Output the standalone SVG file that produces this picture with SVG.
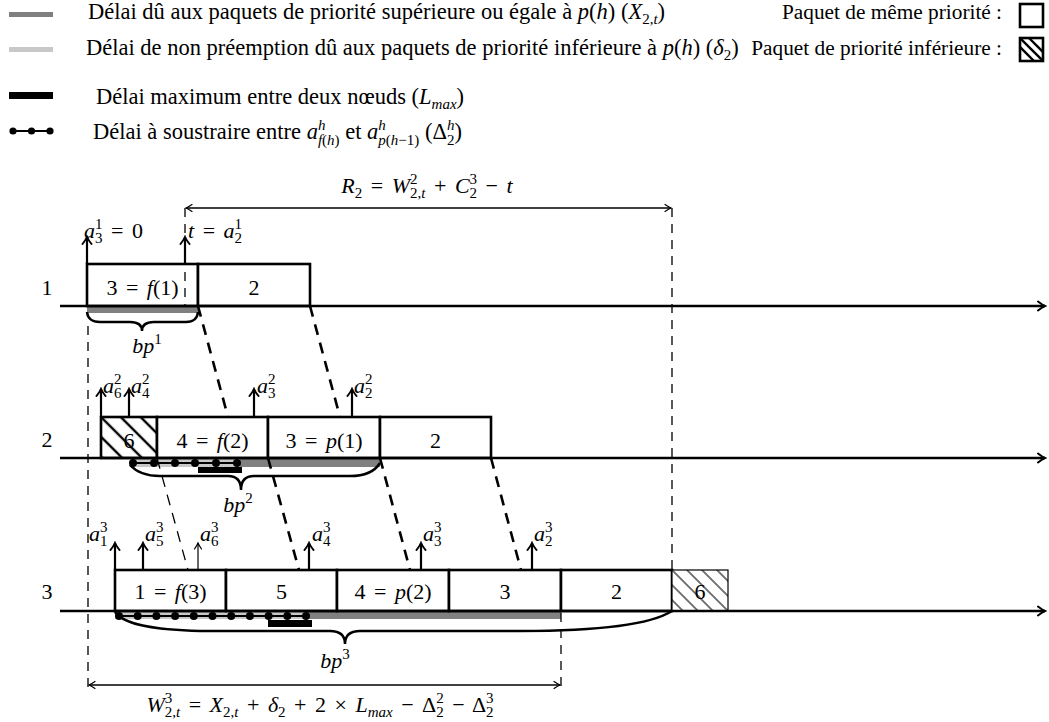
<svg xmlns="http://www.w3.org/2000/svg" width="1049" height="722" viewBox="0 0 1049 722">
<defs>
<style>
.t{font-family:'Liberation Serif','DejaVu Serif',serif;font-size:22px;fill:#000}
.L{font-size:22.5px}
.R{font-size:21.3px}
.m{word-spacing:3px}
.i{font-style:italic}
.s{font-size:15px}
.box{fill:#fff;stroke:#000;stroke-width:2.6}
.hbox2{fill:url(#h2);stroke:#000;stroke-width:2.6}
.hbox3{fill:url(#h3);stroke:#000;stroke-width:1.2}
.axis{stroke:#000;stroke-width:2.5;fill:none}
.arr{stroke:#000;stroke-width:2.2;fill:none}
.arrt{stroke:#000;stroke-width:1.2;fill:none}
.vd{stroke:#000;stroke-width:1.3;stroke-dasharray:9 7;fill:none}
.sd{stroke:#000;stroke-width:2.6;stroke-dasharray:11 8;fill:none}
.sdt{stroke:#000;stroke-width:1.3;stroke-dasharray:11 8;fill:none}
.dim{stroke:#000;stroke-width:1.3;fill:none}
.brace{stroke:#000;stroke-width:2.5;fill:none}
.dg{fill:#808080}
.lg{fill:#c8c8c8}
.blk{fill:#000}
.dotl{stroke:#000;stroke-width:2}
</style>
<marker id="ah" viewBox="-9 -6 11 12" refX="0" refY="0" markerWidth="11" markerHeight="12" markerUnits="userSpaceOnUse" orient="auto">
<path d="M-7,-4.5 Q-2.5,-1 0,0 Q-2.5,1 -7,4.5" fill="none" stroke="#000" stroke-width="2" stroke-linecap="round"/>
</marker>
<marker id="aht" viewBox="-9 -6 11 12" refX="0" refY="0" markerWidth="11" markerHeight="12" markerUnits="userSpaceOnUse" orient="auto-start-reverse">
<path d="M-6,-3.5 Q-2,-0.8 0,0 Q-2,0.8 -6,3.5" fill="none" stroke="#000" stroke-width="1.2" stroke-linecap="round"/>
</marker>
<pattern id="h2" patternUnits="userSpaceOnUse" width="14" height="14" patternTransform="translate(101,417) rotate(-45)">
<rect width="14" height="14" fill="#fff"/>
<line x1="0" y1="0" x2="0" y2="14" stroke="#000" stroke-width="2.4"/>
<line x1="14" y1="0" x2="14" y2="14" stroke="#000" stroke-width="2.4"/>
</pattern>
<pattern id="h3" patternUnits="userSpaceOnUse" width="10.6" height="10.6" patternTransform="translate(672,570) rotate(-45)">
<rect width="10.6" height="10.6" fill="#fff"/>
<line x1="0" y1="0" x2="0" y2="10.6" stroke="#000" stroke-width="1.1"/>
<line x1="10.6" y1="0" x2="10.6" y2="10.6" stroke="#000" stroke-width="1.1"/>
</pattern>
<clipPath id="lgclip"><rect x="1020" y="38" width="23" height="23"/></clipPath>
</defs>

<g id="legend">
<rect class="dg" x="9" y="12" width="44" height="5"/>
<text class="t L" x="88" y="19">Délai dû aux paquets de priorité supérieure ou égale à <tspan class="i">p</tspan>(<tspan class="i">h</tspan>) (<tspan class="i">X</tspan><tspan class="s" dy="5">2,<tspan class="i">t</tspan></tspan><tspan dy="-5">)</tspan></text>
<rect class="lg" x="9" y="47" width="44" height="5"/>
<text class="t L" x="86" y="55">Délai de non préemption dû aux paquets de priorité inférieure à <tspan class="i">p</tspan>(<tspan class="i">h</tspan>) (<tspan class="i">δ</tspan><tspan class="s" dy="5">2</tspan><tspan dy="-5">)</tspan></text>
<rect class="blk" x="9" y="92" width="44" height="7"/>
<text class="t L" x="96" y="104">Délai maximum entre deux nœuds (<tspan class="i">L</tspan><tspan class="s i" dy="5">max</tspan><tspan dy="-5">)</tspan></text>
<line class="dotl" x1="12" y1="131" x2="50" y2="131"/>
<circle cx="13" cy="131" r="3.6"/><circle cx="31.5" cy="131" r="3.6"/><circle cx="50" cy="131" r="3.6"/>
<text class="t L" x="93" y="139">Délai à soustraire entre <tspan class="i">a</tspan><tspan class="s i" dy="-9">h</tspan><tspan class="s" dx="-7.5" dy="15"><tspan class="i">f</tspan>(<tspan class="i">h</tspan>)</tspan><tspan dy="-6"> et </tspan><tspan class="i">a</tspan><tspan class="s i" dy="-9">h</tspan><tspan class="s" dx="-7.5" dy="15"><tspan class="i">p</tspan>(<tspan class="i">h</tspan>−1)</tspan><tspan dy="-6"> (Δ</tspan><tspan class="s i" dy="-9">h</tspan><tspan class="s" dx="-7.5" dy="15">2</tspan><tspan dy="-6">)</tspan></text>
<text class="t R" x="1002" y="19" text-anchor="end">Paquet de même priorité :</text>
<rect class="box" x="1020" y="4" width="23" height="23"/>
<text class="t R" x="1002" y="55" text-anchor="end">Paquet de priorité inférieure :</text>
<g clip-path="url(#lgclip)" stroke="#000" stroke-width="2.4">
<line x1="1020" y1="38" x2="1043" y2="61"/>
<line x1="1029" y1="38" x2="1052" y2="61"/>
<line x1="1011" y1="38" x2="1034" y2="61"/>
</g>
<rect x="1020" y="38" width="23" height="23" fill="none" stroke="#000" stroke-width="2.6"/>
</g>

<g id="row-labels">
<text class="t" x="47" y="295" text-anchor="middle">1</text>
<text class="t" x="47" y="447" text-anchor="middle">2</text>
<text class="t" x="47" y="599" text-anchor="middle">3</text>
</g>

<g id="delays">
<rect class="dg" x="87" y="307" width="111" height="6"/>
<rect class="lg" x="130" y="459" width="110" height="8"/>
<rect class="dg" x="240" y="459" width="140" height="8"/>
<rect class="lg" x="115" y="612" width="191" height="7"/>
<rect class="dg" x="306" y="612" width="255" height="7"/>
</g>

<g id="node1-p3"><rect class="box" x="87" y="264" width="111" height="42"/><text class="t m" x="142.5" y="295" text-anchor="middle">3 = <tspan class="i">f</tspan>(1)</text></g>
<g id="node1-p2"><rect class="box" x="198" y="264" width="112" height="42"/><text class="t" x="254" y="295" text-anchor="middle">2</text></g>

<g id="node2-p6"><rect class="hbox2" x="101" y="417" width="56" height="41"/><text class="t" x="129" y="448" text-anchor="middle">6</text></g>
<g id="node2-p4"><rect class="box" x="157" y="417" width="111" height="41"/><text class="t m" x="212.5" y="448" text-anchor="middle">4 = <tspan class="i">f</tspan>(2)</text></g>
<g id="node2-p3"><rect class="box" x="268" y="417" width="112" height="41"/><text class="t m" x="324" y="448" text-anchor="middle">3 = <tspan class="i">p</tspan>(1)</text></g>
<g id="node2-p2"><rect class="box" x="380" y="417" width="111" height="41"/><text class="t" x="435.5" y="448" text-anchor="middle">2</text></g>

<g id="node3-p1"><rect class="box" x="115" y="570" width="111" height="41"/><text class="t m" x="170.5" y="599" text-anchor="middle">1 = <tspan class="i">f</tspan>(3)</text></g>
<g id="node3-p5"><rect class="box" x="226" y="570" width="111" height="41"/><text class="t" x="281.5" y="599" text-anchor="middle">5</text></g>
<g id="node3-p4"><rect class="box" x="337" y="570" width="112" height="41"/><text class="t m" x="393" y="599" text-anchor="middle">4 = <tspan class="i">p</tspan>(2)</text></g>
<g id="node3-p3"><rect class="box" x="449" y="570" width="112" height="41"/><text class="t" x="505" y="599" text-anchor="middle">3</text></g>
<g id="node3-p2"><rect class="box" x="561" y="570" width="111" height="41"/><text class="t" x="616.5" y="599" text-anchor="middle">2</text></g>
<g id="node3-p6"><rect class="hbox3" x="672" y="570" width="56" height="41"/><text class="t" x="700" y="599" text-anchor="middle">6</text></g>

<g id="connectors">
<line class="axis" x1="60" y1="306" x2="1045" y2="306" marker-end="url(#ah)"/>
<line class="axis" x1="60" y1="458" x2="1045" y2="458" marker-end="url(#ah)"/>
<line class="axis" x1="60" y1="611" x2="1045" y2="611" marker-end="url(#ah)"/>
<line class="sd" x1="198" y1="306" x2="228" y2="417"/>
<line class="sd" x1="310" y1="306" x2="340" y2="417"/>
<line class="sdt" x1="157" y1="458" x2="188" y2="570"/>
<line class="sd" x1="268" y1="458" x2="299" y2="570"/>
<line class="sd" x1="380" y1="458" x2="410" y2="570"/>
<line class="sd" x1="491" y1="458" x2="521" y2="570"/>
<line class="vd" x1="185" y1="208" x2="185" y2="306"/>
<line class="vd" x1="672" y1="208" x2="672" y2="570"/>
<line class="vd" x1="88" y1="326" x2="88" y2="688"/>
<line class="vd" x1="561" y1="613" x2="561" y2="688"/>
<line class="dim" x1="186" y1="208" x2="671" y2="208" marker-start="url(#aht)" marker-end="url(#aht)"/>
<line class="dim" x1="89" y1="685" x2="560" y2="685" marker-start="url(#aht)" marker-end="url(#aht)"/>
<g id="arrivals">
<line class="arr" x1="87" y1="264" x2="87" y2="237" marker-end="url(#ah)"/>
<line class="arr" x1="185" y1="264" x2="185" y2="237" marker-end="url(#ah)"/>
<line class="arr" x1="101" y1="417" x2="101" y2="389" marker-end="url(#ah)"/>
<line class="arr" x1="129" y1="417" x2="129" y2="389" marker-end="url(#ah)"/>
<line class="arr" x1="254" y1="417" x2="254" y2="389" marker-end="url(#ah)"/>
<line class="arr" x1="352" y1="417" x2="352" y2="389" marker-end="url(#ah)"/>
<line class="arr" x1="115" y1="570" x2="115" y2="543" marker-end="url(#ah)"/>
<line class="arr" x1="143" y1="570" x2="143" y2="543" marker-end="url(#ah)"/>
<line class="arrt" x1="198" y1="570" x2="198" y2="543" marker-end="url(#aht)"/>
<line class="arr" x1="309" y1="570" x2="309" y2="543" marker-end="url(#ah)"/>
<line class="arr" x1="421" y1="570" x2="421" y2="543" marker-end="url(#ah)"/>
<line class="arr" x1="532" y1="570" x2="532" y2="543" marker-end="url(#ah)"/>
</g>
</g>

<g id="delay-marks">
<line class="dotl" x1="132" y1="463" x2="237" y2="463"/>
<circle cx="133" cy="463" r="4"/><circle cx="154" cy="463" r="4"/><circle cx="175" cy="463" r="4"/><circle cx="195" cy="463" r="4"/><circle cx="216" cy="463" r="4"/><circle cx="237" cy="463" r="4"/>
<rect class="blk" x="198" y="467" width="44" height="6"/>
<line class="dotl" x1="119" y1="616" x2="306" y2="616"/>
<circle cx="119" cy="616" r="4"/><circle cx="137.7" cy="616" r="4"/><circle cx="156.4" cy="616" r="4"/><circle cx="175.1" cy="616" r="4"/><circle cx="193.8" cy="616" r="4"/><circle cx="212.5" cy="616" r="4"/><circle cx="231.2" cy="616" r="4"/><circle cx="249.9" cy="616" r="4"/><circle cx="268.6" cy="616" r="4"/><circle cx="287.3" cy="616" r="4"/><circle cx="306" cy="616" r="4"/>
<rect class="blk" x="268" y="620" width="44" height="7"/>
<path class="brace" d="M87,312 Q88,322 100,322 L130,322 Q142,322 142,331 Q142,322 154,322 L186,322 Q197,322 198,312"/>
<path class="brace" d="M130,465 Q140,476 160,476 L228,476 Q241,476 241,490 Q241,476 254,476 L350,476 Q372,476 380,463"/>
<path class="brace" d="M115,612 C125,626 160,630 200,631 L330,631 Q345,631 345,644 Q345,631 360,631 L520,631 C600,631 650,625 672,611"/>
</g>

<g id="labels">
<text class="t m" x="427" y="193" text-anchor="middle"><tspan class="i">R</tspan><tspan class="s" dy="5">2</tspan><tspan dy="-5"> = </tspan><tspan class="i">W</tspan><tspan class="s" dy="-9">2</tspan><tspan class="s" dx="-7.5" dy="14">2,<tspan class="i">t</tspan></tspan><tspan dy="-5"> + </tspan><tspan class="i">C</tspan><tspan class="s" dy="-9">3</tspan><tspan class="s" dx="-7.5" dy="14">2</tspan><tspan dy="-5"> − </tspan><tspan class="i">t</tspan></text>
<text class="t m" x="84" y="238"><tspan class="i">a</tspan><tspan class="s" dy="-9">1</tspan><tspan class="s" dx="-7.5" dy="14">3</tspan><tspan dy="-5"> = 0</tspan></text>
<text class="t m" x="188" y="238"><tspan class="i">t</tspan> = <tspan class="i">a</tspan><tspan class="s" dy="-9">1</tspan><tspan class="s" dx="-7.5" dy="14">2</tspan></text>
<text class="t" x="103" y="393"><tspan class="i">a</tspan><tspan class="s" dy="-9">2</tspan><tspan class="s" dx="-7.5" dy="14">6</tspan></text>
<text class="t" x="131" y="393"><tspan class="i">a</tspan><tspan class="s" dy="-9">2</tspan><tspan class="s" dx="-7.5" dy="14">4</tspan></text>
<text class="t" x="257" y="393"><tspan class="i">a</tspan><tspan class="s" dy="-9">2</tspan><tspan class="s" dx="-7.5" dy="14">3</tspan></text>
<text class="t" x="354" y="393"><tspan class="i">a</tspan><tspan class="s" dy="-9">2</tspan><tspan class="s" dx="-7.5" dy="14">2</tspan></text>
<text class="t" x="89" y="541"><tspan class="i">a</tspan><tspan class="s" dy="-9">3</tspan><tspan class="s" dx="-7.5" dy="14">1</tspan></text>
<text class="t" x="145" y="541"><tspan class="i">a</tspan><tspan class="s" dy="-9">3</tspan><tspan class="s" dx="-7.5" dy="14">5</tspan></text>
<text class="t" x="200" y="541"><tspan class="i">a</tspan><tspan class="s" dy="-9">3</tspan><tspan class="s" dx="-7.5" dy="14">6</tspan></text>
<text class="t" x="312" y="541"><tspan class="i">a</tspan><tspan class="s" dy="-9">3</tspan><tspan class="s" dx="-7.5" dy="14">4</tspan></text>
<text class="t" x="423" y="541"><tspan class="i">a</tspan><tspan class="s" dy="-9">3</tspan><tspan class="s" dx="-7.5" dy="14">3</tspan></text>
<text class="t" x="534" y="541"><tspan class="i">a</tspan><tspan class="s" dy="-9">3</tspan><tspan class="s" dx="-7.5" dy="14">2</tspan></text>
<text class="t" x="147" y="353" text-anchor="middle"><tspan class="i">bp</tspan><tspan class="s" dy="-9">1</tspan></text>
<text class="t" x="238" y="512" text-anchor="middle"><tspan class="i">bp</tspan><tspan class="s" dy="-9">2</tspan></text>
<text class="t" x="335" y="668" text-anchor="middle"><tspan class="i">bp</tspan><tspan class="s" dy="-9">3</tspan></text>
<text class="t m" x="320" y="712" text-anchor="middle"><tspan class="i">W</tspan><tspan class="s" dy="-9">3</tspan><tspan class="s" dx="-7.5" dy="14">2,<tspan class="i">t</tspan></tspan><tspan dy="-5"> = </tspan><tspan class="i">X</tspan><tspan class="s" dy="5">2,<tspan class="i">t</tspan></tspan><tspan dy="-5"> + </tspan><tspan class="i">δ</tspan><tspan class="s" dy="5">2</tspan><tspan dy="-5"> + 2 × </tspan><tspan class="i">L</tspan><tspan class="s i" dy="5">max</tspan><tspan dy="-5"> − Δ</tspan><tspan class="s" dy="-9">2</tspan><tspan class="s" dx="-7.5" dy="14">2</tspan><tspan dy="-5"> − Δ</tspan><tspan class="s" dy="-9">3</tspan><tspan class="s" dx="-7.5" dy="14">2</tspan></text>
</g>
</svg>
